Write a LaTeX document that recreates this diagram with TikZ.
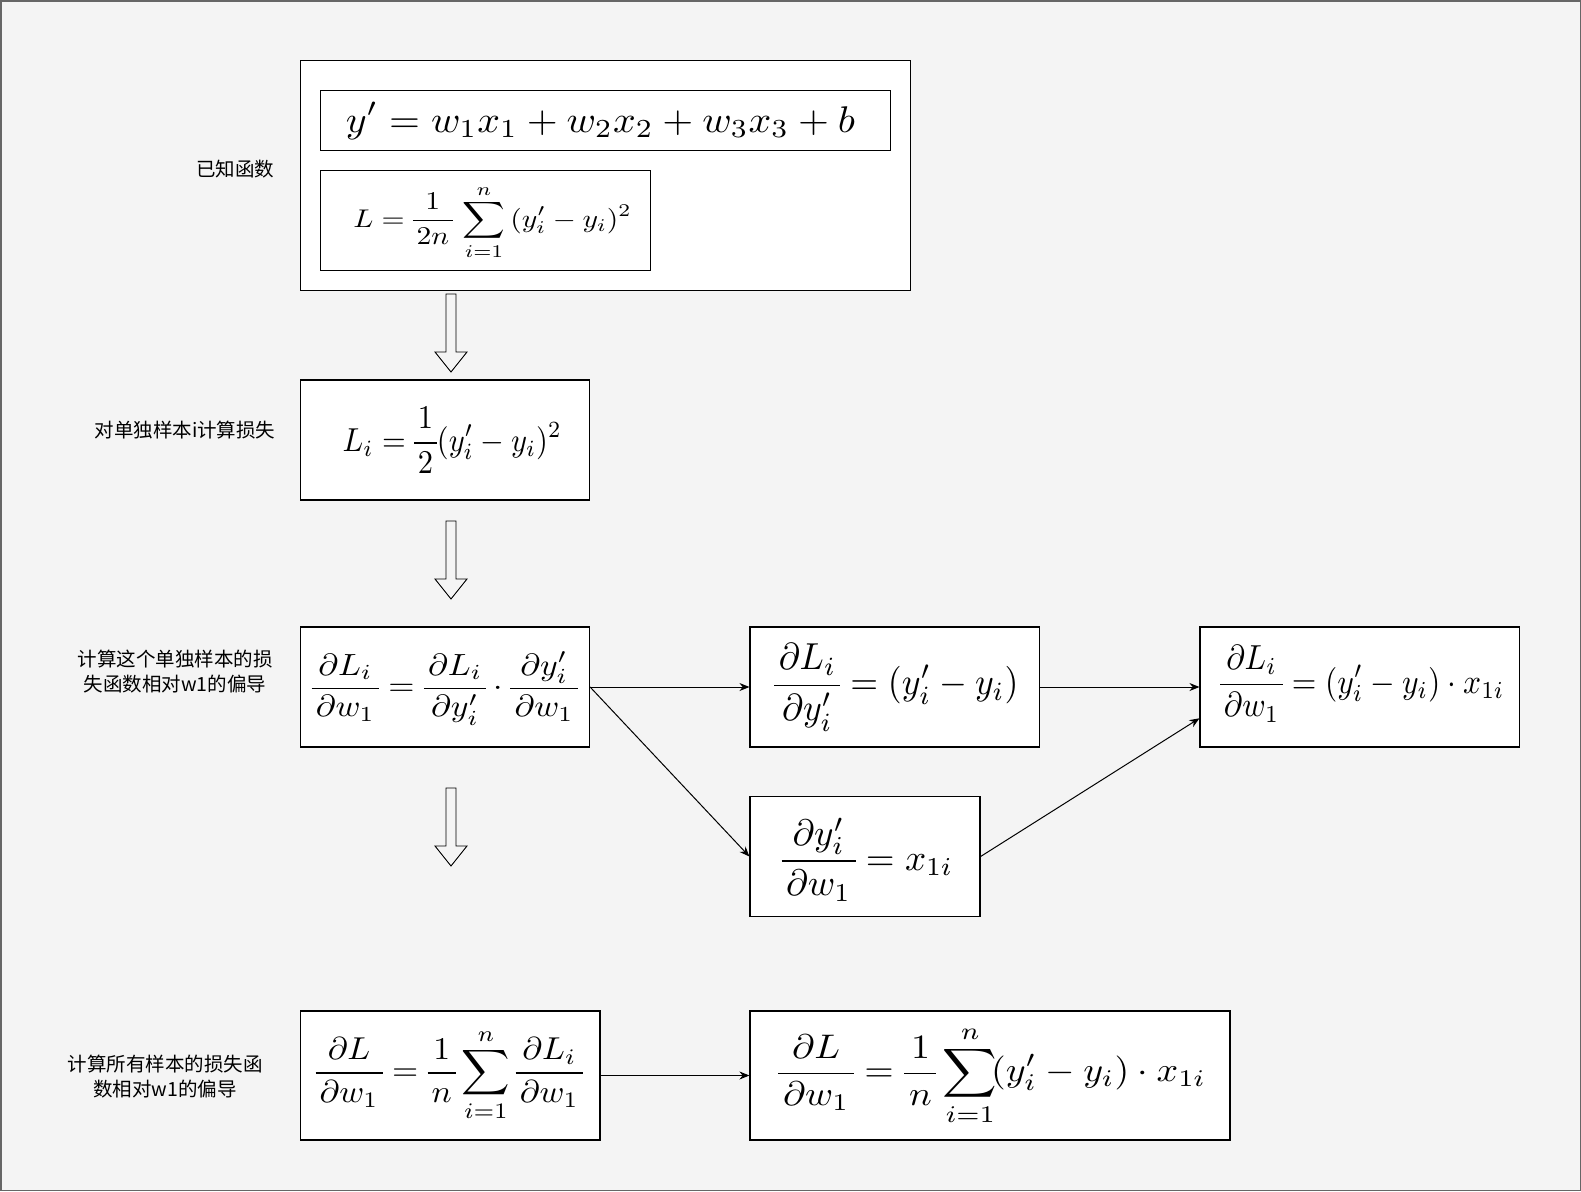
\documentclass[tikz,border=0pt]{standalone}
\usepackage{amsmath}
\usepackage{graphicx}
\usepackage{fontspec}
\newfontfamily\cjk{Noto Sans CJK SC}
\usetikzlibrary{arrows.meta,calc}
\definecolor{canvas}{HTML}{F4F4F4}
\definecolor{frame}{HTML}{666666}
\setlength{\nulldelimiterspace}{0pt}
% fraction whose rule reaches a little past its numerator and denominator
\newcommand\padfrac[2]{\frac{\mkern2.2mu #1\mkern2.2mu}{\mkern2.2mu #2\mkern2.2mu}}
% display formula stretched to a given width and total height (in pt)
\newcommand\fitmath[3]{\resizebox*{#1pt}{#2pt}{$\displaystyle #3$}}
\tikzset{
  box/.style={draw=black, fill=white, line width=1.2pt, inner sep=0pt, anchor=center},
  eqn/.style={inner sep=0pt, outer sep=0pt, anchor=center},
  lab/.style={font=\cjk\fontsize{19.5}{25}\selectfont, align=center, text=black},
  link/.style={line width=1pt, -{Stealth[length=10pt,width=8pt]}},
  hollow/.pic={\draw[line width=0.9pt] (-5,0) -- (-5,58) -- (-16,58) -- (0,78) -- (16,58) -- (5,58) -- (5,0) -- cycle;}
}
\begin{document}
\begin{tikzpicture}[x=1pt,y=-1pt]
% canvas and frame
\fill[canvas] (0,0) rectangle (1581,1191);
\draw[frame, line width=1.5pt] (0.75,0.75) rectangle (1580.25,1190.25);
\useasboundingbox (0,0) rectangle (1581,1191);

% boxes
\node[box, minimum width=610pt, minimum height=230pt] (known) at (605.5,175.5) {};
\node[box, minimum width=570pt, minimum height=59.5pt] (model) at (605.5,120.5) {};
\node[box, minimum width=330pt, minimum height=100pt] (loss) at (485.5,220.3) {};
\node[box, minimum width=289pt, minimum height=120pt] (li) at (445,440) {};
\node[box, minimum width=289pt, minimum height=120pt] (chain) at (445,687) {};
\node[box, minimum width=289.5pt, minimum height=120pt] (dly) at (894.8,687) {};
\node[box, minimum width=319.5pt, minimum height=120pt] (dlw) at (1359.8,687) {};
\node[box, minimum width=230pt, minimum height=120pt] (dyw) at (865,856.5) {};
\node[box, minimum width=299.5pt, minimum height=129pt] (avg) at (450.3,1075.5) {};
\node[box, minimum width=480pt, minimum height=129pt] (grad) at (990,1075.5) {};

% formulas
\node[eqn] (model-f) at (600.4,120.8)
  {\fitmath{509}{37}{y' = w_1x_1 + w_2x_2 + w_3x_3 + b}};
\node[eqn] (loss-f) at (492.5,222.5)
  {\fitmath{278.4}{75}{L = \padfrac{1}{2n}\,\sum_{i=1}^{n}\,(y'_i - y_i)^2}};
\node[eqn] (li-f) at (452.2,440.6)
  {\fitmath{219}{66.6}{L_i = \padfrac{1}{2}(y'_i - y_i)^2}};
\node[eqn] (chain-f) at (444.7,688.7)
  {\fitmath{266}{73.3}{\padfrac{\partial L_i}{\partial w_1} = \padfrac{\partial L_i}{\partial y'_i}\cdot\padfrac{\partial y'_i}{\partial w_1}}};
\node[eqn] (dly-f) at (896.4,687.2)
  {\fitmath{244}{87.7}{\padfrac{\partial L_i}{\partial y'_i} = (y'_i - y_i)}};
\node[eqn] (dlw-f) at (1362.2,683.7)
  {\fitmath{284.4}{76.7}{\padfrac{\partial L_i}{\partial w_1} = (y'_i - y_i)\cdot x_{1i}}};
\node[eqn] (dyw-f) at (867.5,859.4)
  {\fitmath{171.6}{83.3}{\padfrac{\partial y'_i}{\partial w_1} = x_{1i}}};
\node[eqn] (avg-f) at (449.2,1074.9)
  {\fitmath{267.2}{92.7}{\padfrac{\partial L}{\partial w_1} = \padfrac{1}{n}\sum_{i=1}^{n}\padfrac{\partial L_i}{\partial w_1}}};
\node[eqn] (grad-f) at (992.2,1075.4)
  {\fitmath{427.6}{100}{\padfrac{\partial L}{\partial w_1} = \padfrac{1}{n}\sum_{i=1}^{n}\!(y'_i - y_i)\cdot x_{1i}}};

% step labels
\node[lab] (t1) at (235,169.5) {已知函数};
\node[lab] (t2) at (185,430) {对单独样本i计算损失};
\node[lab] (t3) at (175,671.5) {计算这个单独样本的损\\失函数相对w1的偏导};
\node[lab] (t4) at (165,1076.5) {计算所有样本的损失函\\数相对w1的偏导};

% hollow step arrows
\pic at (451,294) {hollow};
\pic at (451,521) {hollow};
\pic at (451,788) {hollow};

% connectors
\draw[link] (chain.east) -- (dly.west);
\draw[link] (chain.east) -- (dyw.west);
\draw[link] (dly.east) -- (dlw.west);
\draw[link] (dyw.east) -- ($(dlw.north west)!0.758!(dlw.south west)$);
\draw[link] (avg.east) -- (grad.west);
\end{tikzpicture}
\end{document}
